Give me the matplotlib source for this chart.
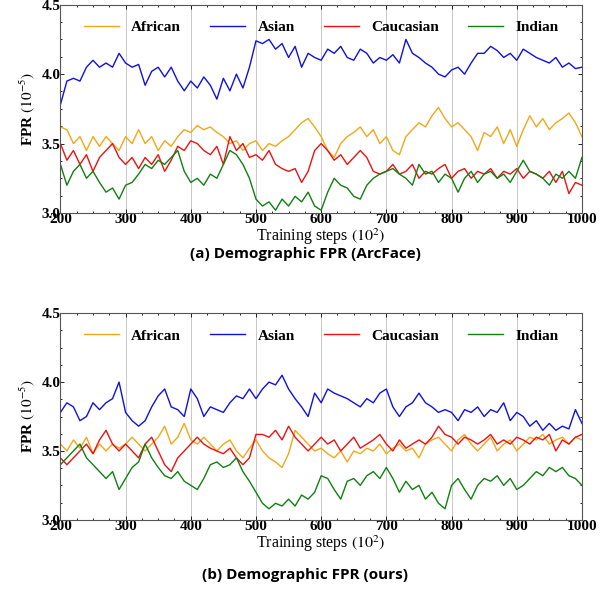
import numpy as np
import matplotlib
matplotlib.use('Agg')
import matplotlib.pyplot as plt

# training steps (x 10^2)
steps = np.arange(200, 1001, 10)

# (a) ArcFace
african_a = [3.62, 3.60, 3.50, 3.55, 3.45, 3.55, 3.48, 3.55, 3.50, 3.45,
             3.55, 3.50, 3.60, 3.50, 3.55, 3.45, 3.52, 3.48, 3.55, 3.60,
             3.58, 3.63, 3.60, 3.62, 3.58, 3.55, 3.50, 3.52, 3.45, 3.50,
             3.52, 3.45, 3.50, 3.48, 3.52, 3.55, 3.60, 3.65, 3.68, 3.62,
             3.55, 3.45, 3.40, 3.50, 3.55, 3.58, 3.62, 3.55, 3.60, 3.50,
             3.55, 3.45, 3.42, 3.55, 3.60, 3.65, 3.62, 3.70, 3.76, 3.68,
             3.62, 3.65, 3.60, 3.55, 3.45, 3.58, 3.55, 3.62, 3.50, 3.60,
             3.48, 3.60, 3.70, 3.62, 3.68, 3.60, 3.65, 3.68, 3.72, 3.65, 3.55]
asian_a = [3.78, 3.95, 3.97, 3.95, 4.05, 4.10, 4.05, 4.08, 4.05, 4.15,
           4.08, 4.05, 4.07, 3.92, 4.02, 4.05, 3.98, 4.05, 3.95, 3.88,
           3.95, 3.90, 3.98, 3.92, 3.82, 3.97, 3.88, 4.00, 3.90, 4.05,
           4.24, 4.22, 4.25, 4.18, 4.22, 4.12, 4.20, 4.05, 4.15, 4.12,
           4.10, 4.18, 4.15, 4.20, 4.12, 4.10, 4.18, 4.15, 4.08, 4.12,
           4.10, 4.14, 4.08, 4.25, 4.15, 4.12, 4.08, 4.05, 4.00, 3.98,
           4.03, 4.05, 4.00, 4.08, 4.15, 4.15, 4.20, 4.17, 4.12, 4.15,
           4.10, 4.18, 4.15, 4.12, 4.10, 4.08, 4.12, 4.05, 4.08, 4.04, 4.05]
caucasian_a = [3.50, 3.38, 3.45, 3.35, 3.42, 3.30, 3.40, 3.45, 3.50, 3.40,
               3.35, 3.40, 3.32, 3.40, 3.35, 3.42, 3.30, 3.38, 3.48, 3.45,
               3.52, 3.50, 3.45, 3.42, 3.48, 3.35, 3.55, 3.45, 3.50, 3.40,
               3.42, 3.38, 3.45, 3.35, 3.32, 3.30, 3.32, 3.22, 3.30, 3.45,
               3.50, 3.45, 3.38, 3.42, 3.35, 3.40, 3.45, 3.40, 3.30, 3.28,
               3.30, 3.35, 3.28, 3.30, 3.35, 3.25, 3.30, 3.28, 3.32, 3.35,
               3.25, 3.30, 3.32, 3.25, 3.30, 3.28, 3.32, 3.25, 3.30, 3.28,
               3.32, 3.25, 3.30, 3.28, 3.25, 3.30, 3.22, 3.30, 3.14, 3.22, 3.20]
indian_a = [3.35, 3.20, 3.30, 3.35, 3.25, 3.30, 3.22, 3.15, 3.18, 3.10,
            3.20, 3.22, 3.28, 3.35, 3.32, 3.38, 3.35, 3.40, 3.45, 3.30,
            3.22, 3.25, 3.20, 3.28, 3.25, 3.35, 3.45, 3.42, 3.35, 3.25,
            3.10, 3.05, 3.08, 3.02, 3.10, 3.05, 3.12, 3.08, 3.15, 3.05,
            3.02, 3.15, 3.25, 3.20, 3.18, 3.12, 3.10, 3.20, 3.25, 3.28,
            3.30, 3.32, 3.28, 3.25, 3.20, 3.35, 3.28, 3.30, 3.22, 3.28,
            3.25, 3.15, 3.25, 3.30, 3.22, 3.28, 3.30, 3.25, 3.28, 3.22,
            3.30, 3.38, 3.30, 3.28, 3.25, 3.20, 3.28, 3.25, 3.30, 3.25, 3.40]

# (b) ours
african_b = [3.55, 3.50, 3.58, 3.52, 3.60, 3.48, 3.55, 3.50, 3.55, 3.52,
             3.55, 3.60, 3.55, 3.50, 3.55, 3.60, 3.68, 3.55, 3.60, 3.70,
             3.58, 3.55, 3.60, 3.55, 3.50, 3.55, 3.58, 3.50, 3.45, 3.52,
             3.58, 3.50, 3.45, 3.42, 3.38, 3.48, 3.65, 3.60, 3.55, 3.50,
             3.52, 3.48, 3.45, 3.50, 3.42, 3.50, 3.48, 3.52, 3.50, 3.55,
             3.48, 3.52, 3.55, 3.50, 3.52, 3.45, 3.55, 3.58, 3.60, 3.55,
             3.50, 3.58, 3.62, 3.55, 3.50, 3.55, 3.60, 3.50, 3.55, 3.58,
             3.50, 3.55, 3.60, 3.58, 3.62, 3.55, 3.58, 3.60, 3.55, 3.60, 3.58]
asian_b = [3.78, 3.85, 3.82, 3.72, 3.75, 3.85, 3.80, 3.85, 3.88, 4.00,
           3.78, 3.72, 3.68, 3.72, 3.82, 3.90, 3.95, 3.82, 3.80, 3.75,
           3.95, 3.88, 3.75, 3.82, 3.80, 3.78, 3.85, 3.90, 3.88, 3.95,
           3.88, 3.95, 4.00, 3.98, 4.05, 3.95, 3.88, 3.82, 3.75, 3.92,
           3.85, 3.95, 3.92, 3.90, 3.88, 3.85, 3.82, 3.88, 3.85, 3.92,
           3.95, 3.82, 3.75, 3.82, 3.85, 3.92, 3.85, 3.82, 3.78, 3.80,
           3.78, 3.72, 3.80, 3.78, 3.82, 3.75, 3.80, 3.78, 3.85, 3.72,
           3.78, 3.75, 3.68, 3.72, 3.65, 3.70, 3.65, 3.68, 3.66, 3.80, 3.70]
caucasian_b = [3.45, 3.40, 3.45, 3.50, 3.55, 3.48, 3.58, 3.65, 3.55, 3.50,
               3.55, 3.50, 3.45, 3.55, 3.60, 3.50, 3.40, 3.35, 3.45, 3.50,
               3.55, 3.60, 3.55, 3.52, 3.50, 3.48, 3.52, 3.45, 3.40, 3.45,
               3.62, 3.62, 3.60, 3.65, 3.58, 3.68, 3.60, 3.55, 3.50, 3.55,
               3.60, 3.55, 3.58, 3.50, 3.55, 3.60, 3.52, 3.55, 3.58, 3.62,
               3.55, 3.50, 3.58, 3.52, 3.55, 3.58, 3.55, 3.60, 3.68, 3.62,
               3.60, 3.55, 3.60, 3.58, 3.55, 3.58, 3.62, 3.55, 3.58, 3.55,
               3.60, 3.58, 3.55, 3.60, 3.58, 3.62, 3.50, 3.58, 3.55, 3.60, 3.62]
indian_b = [3.40, 3.45, 3.50, 3.55, 3.45, 3.40, 3.35, 3.30, 3.35, 3.22,
            3.30, 3.38, 3.42, 3.55, 3.45, 3.38, 3.32, 3.30, 3.35, 3.28,
            3.25, 3.22, 3.30, 3.40, 3.42, 3.38, 3.40, 3.45, 3.35, 3.28,
            3.20, 3.12, 3.08, 3.12, 3.10, 3.15, 3.10, 3.18, 3.15, 3.20,
            3.32, 3.30, 3.22, 3.15, 3.28, 3.30, 3.25, 3.32, 3.35, 3.30,
            3.38, 3.30, 3.20, 3.28, 3.22, 3.25, 3.15, 3.20, 3.12, 3.08,
            3.25, 3.30, 3.22, 3.15, 3.25, 3.30, 3.28, 3.32, 3.25, 3.30,
            3.22, 3.25, 3.30, 3.35, 3.32, 3.38, 3.35, 3.38, 3.32, 3.30, 3.25]

labels = ['African', 'Asian', 'Caucasian', 'Indian']
colors = ['#f0a818', '#1010e0', '#f01010', '#108010']
captions = ['(a) Demographic FPR (ArcFace)', '(b) Demographic FPR (ours)']

panels = [[african_a, asian_a, caucasian_a, indian_a],
          [african_b, asian_b, caucasian_b, indian_b]]

serif = 'Liberation Serif'
plt.rcParams['mathtext.fontset'] = 'stix'

fig = plt.figure(figsize=(6.1, 5.9), dpi=100)
boxes = [[0.099, 0.639, 0.855, 0.353], [0.099, 0.119, 0.855, 0.350]]
cap_y = [0.569, 0.025]

for k in range(2):
  ax = fig.add_axes(boxes[k])
  for s, lab, c in zip(panels[k], labels, colors):
    ax.plot(steps, s, color=c, lw=1.0, label=lab)
  ax.set_xlim(200, 1000)
  ax.set_ylim(3.0, 4.5)
  ax.set_xticks(range(200, 1001, 100))
  ax.set_yticks([3.0, 3.5, 4.0, 4.5])
  ax.set_xticks(range(200, 1001, 25), minor=True)
  ax.set_yticks(np.arange(3.0, 4.51, 0.125), minor=True)
  ax.tick_params(direction='in', which='both', top=True, right=True,
                 length=3, width=0.6, labelsize=11, pad=0)
  ax.tick_params(which='minor', length=1.5)
  for t in ax.get_xticklabels() + ax.get_yticklabels():
    t.set_fontfamily(serif)
    t.set_fontweight('bold')
  ax.grid(True, axis='x', color='#c8c8c8', lw=0.7)
  for sp in ax.spines.values():
    sp.set_color('#555555')
    sp.set_linewidth(0.8)
  ax.set_ylabel(r'FPR $(10^{-5})$', fontfamily=serif, fontweight='bold',
                fontsize=11, labelpad=3)
  ax.set_xlabel(r'Training steps $(10^{2})$', fontfamily=serif,
                fontsize=11.5, labelpad=0.5)
  ax.legend(loc='upper center', ncol=4, frameon=False,
            prop={'family': serif, 'weight': 'bold', 'size': 11},
            handlelength=2.3, handletextpad=0.8, columnspacing=1.9,
            bbox_to_anchor=(0.5, 0.99))
  fig.text(0.5, cap_y[k], captions[k], ha='center', va='center',
           fontfamily='Open Sans', fontweight='bold', fontsize=11)

fig.savefig('out.png', dpi=100)
